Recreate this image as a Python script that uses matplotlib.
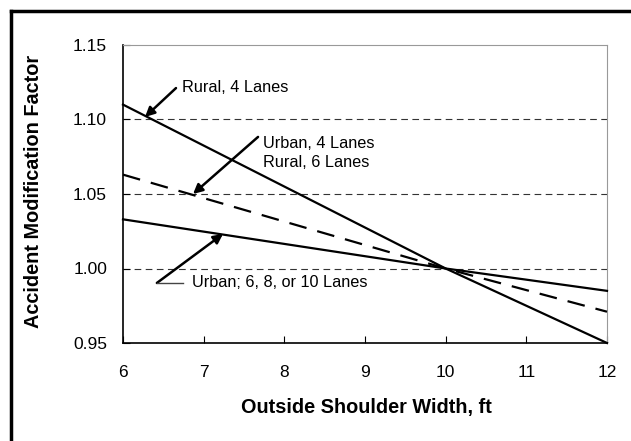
import numpy as np
import matplotlib.pyplot as plt
from matplotlib.lines import Line2D

plt.rcParams['font.family'] = ['Liberation Sans', 'DejaVu Sans']

# shoulder width (ft) and AMF values
width = [6, 10, 12]
rural_4 = [1.110, 1.000, 0.950]
urban4_rural6 = [1.063, 1.000, 0.971]
urban_6_8_10 = [1.033, 1.000, 0.985]

x_ticks = [6, 7, 8, 9, 10, 11, 12]
y_ticks = [0.95, 1.00, 1.05, 1.10, 1.15]

fig = plt.figure(figsize=(6.31, 4.41), dpi=100)
ax = fig.add_axes([123 / 631, 1 - 343 / 441, 484 / 631, 298 / 441])

# dashed gridlines
for yv in [1.00, 1.05, 1.10]:
    ax.axhline(yv, color='#333333', lw=0.8, ls=(0, (6, 4)), zorder=1)

ax.plot(width, rural_4, color='black', lw=1.6, zorder=3, clip_on=False)
ax.plot(width, urban4_rural6, color='black', lw=1.6, ls=(0, (8, 5)), zorder=3, clip_on=False)
ax.plot(width, urban_6_8_10, color='black', lw=1.6, zorder=3, clip_on=False)

ax.set_xlim(6, 12)
ax.set_ylim(0.95, 1.15)
ax.set_xticks(x_ticks)
ax.set_yticks(y_ticks)
ax.set_yticklabels(['%.2f' % v for v in y_ticks])
ax.tick_params(axis='x', direction='in', length=5, width=0.8, labelsize=12.5, pad=16)
ax.tick_params(axis='y', direction='in', length=5, width=0.8, labelsize=12.5, pad=11.5)

for s in ['top', 'right']:
    ax.spines[s].set_color('#999999')
    ax.spines[s].set_linewidth(0.8)
for s in ['left', 'bottom']:
    ax.spines[s].set_color('black')
    ax.spines[s].set_linewidth(1.2)

ax.set_xlabel('Outside Shoulder Width, ft', fontsize=14.3, fontweight='bold', va='center')
ax.set_ylabel('Accident Modification Factor', fontsize=14.3, fontweight='bold',
              va='center', ha='center')
ax.xaxis.set_label_coords(0.502, -0.218)
ax.yaxis.set_label_coords(-0.184, 0.508)

arrow = dict(arrowstyle='-|>', color='black', lw=1.8, mutation_scale=14, shrinkA=0, shrinkB=0)
fs = 11.7

ax.annotate('', xy=(6.273, 1.1017), xytext=(6.657, 1.1211), arrowprops=arrow)
ax.text(6.731, 1.1218, 'Rural, 4 Lanes', fontsize=fs, va='center', ha='left')

ax.annotate('', xy=(6.868, 1.050), xytext=(7.674, 1.0883), arrowprops=arrow)
ax.text(7.736, 1.0775, 'Urban, 4 Lanes\nRural, 6 Lanes', fontsize=fs, va='center',
        ha='left', linespacing=1.35)

ax.annotate('', xy=(7.24, 1.0232), xytext=(6.42, 0.9903), arrowprops=arrow)
ax.plot([6.42, 6.74], [0.9903, 0.9903], color='#444444', lw=1.0, zorder=3)
ax.text(6.86, 0.9903, 'Urban; 6, 8, or 10 Lanes', fontsize=fs, va='center', ha='left')

# outer frame (only top and left edges are visible in the picture)
fig.add_artist(Line2D([10.5 / 631, 1], [1 - 10.5 / 441] * 2, color='black', lw=2.5))
fig.add_artist(Line2D([10.5 / 631] * 2, [0, 1 - 10.5 / 441], color='black', lw=2.5))

fig.savefig('out.png', dpi=100)
